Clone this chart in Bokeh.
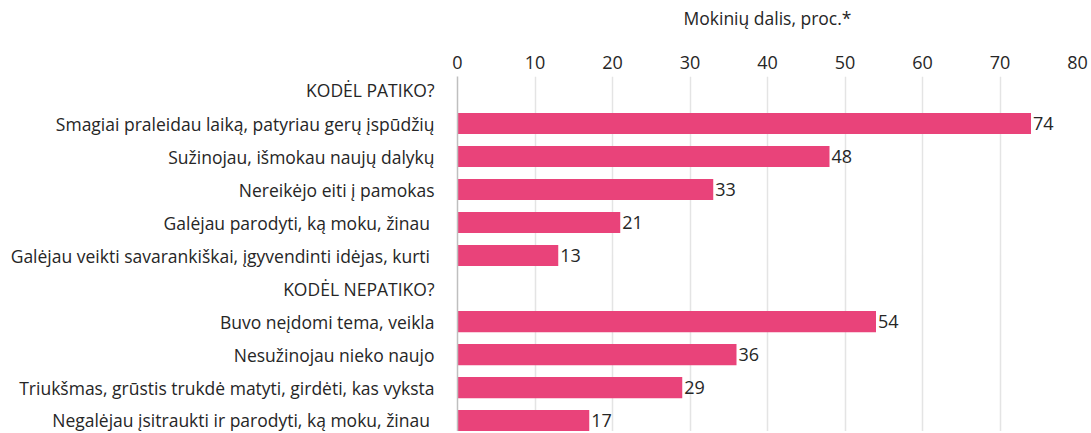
from bokeh.plotting import figure
from bokeh.models import Range1d, FixedTicker, ColumnDataSource, LabelSet
from bokeh.core.properties import value
from bokeh.embed import file_html
from bokeh.resources import INLINE

labels = [
    "KODĖL PATIKO?",
    "Smagiai praleidau laiką, patyriau gerų įspūdžių",
    "Sužinojau, išmokau naujų dalykų",
    "Nereikėjo eiti į pamokas",
    "Galėjau parodyti, ką moku,  žinau",
    "Galėjau veikti savarankiškai, įgyvendinti  idėjas, kurti",
    "KODĖL NEPATIKO?",
    "Buvo neįdomi tema, veikla",
    "Nesužinojau nieko naujo",
    "Triukšmas, grūstis trukdė matyti, girdėti, kas vyksta",
    "Negalėjau įsitraukti ir parodyti, ką moku,  žinau",
]
values = [None, 74, 48, 33, 21, 13, None, 54, 36, 29, 17]
x_ticks = [0, 10, 20, 30, 40, 50, 60, 70, 80]
axis_title = "Mokinių dalis, proc.*"

FONT = "Open Sans"
BAR = "#E9437A"
TXT = "#262626"

rows = list(range(len(labels)))
bar_y = [r for r, v in zip(rows, values) if v is not None]
bar_v = [v for v in values if v is not None]
src = ColumnDataSource(dict(y=bar_y, v=bar_v, t=[str(v) for v in bar_v]))

p = figure(width=1088, height=431, output_backend="svg", toolbar_location=None,
           x_range=Range1d(0, 80), y_range=Range1d(10.33, -0.424),
           x_axis_location="above", min_border_left=457, min_border_right=11,
           min_border_bottom=0, min_border_top=76)
p.outline_line_color = None
p.background_fill_color = "white"

p.hbar(y="y", right="v", left=0, height=0.64, source=src, color=BAR, line_color=None)

p.add_layout(LabelSet(x="v", y="y", text="t", source=src, x_offset=2, y_offset=0,
                      text_baseline="middle", text_align="left", text_font=value(FONT),
                      text_font_size=value("18px"), text_color=TXT))

xa = p.xaxis[0]
xa.ticker = FixedTicker(ticks=x_ticks)
xa.axis_line_color = None
xa.major_tick_line_color = None
xa.minor_tick_line_color = None
xa.major_label_text_font = FONT
xa.major_label_text_font_size = "18px"
xa.major_label_text_color = TXT
xa.major_label_standoff = 2
xa.axis_label = axis_title
xa.axis_label_text_font = FONT
xa.axis_label_text_font_size = "17.5px"
xa.axis_label_text_font_style = "normal"
xa.axis_label_text_color = TXT
xa.axis_label_standoff = 23

ya = p.yaxis[0]
ya.ticker = FixedTicker(ticks=rows)
ya.major_label_overrides = {r: l for r, l in zip(rows, labels)}
ya.axis_line_color = "#BFBFBF"
ya.axis_line_width = 1.5
ya.major_tick_line_color = None
ya.minor_tick_line_color = None
ya.major_label_text_font = FONT
ya.major_label_text_font_size = "17.5px"
ya.major_label_text_color = TXT
ya.major_label_standoff = 17

p.xgrid.grid_line_color = "#E4E4E4"
p.xgrid.grid_line_width = 1.5
p.ygrid.grid_line_color = None

open("out.html", "w").write(file_html(p, INLINE))
